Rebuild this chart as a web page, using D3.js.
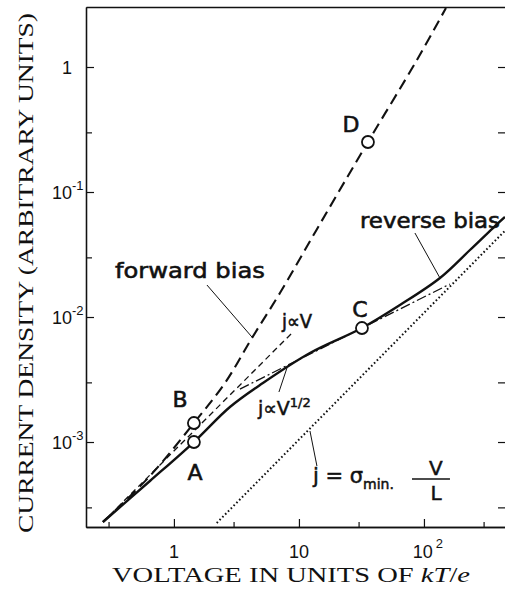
<!DOCTYPE html>
<html>
<head>
<meta charset="utf-8">
<script src="https://cdn.jsdelivr.net/npm/d3@7"></script>
<style>
  body { margin: 0; background: #fff; }
  svg { display: block; }
</style>
</head>
<body>
<div id="chart"></div>
<script>
// values: V in units of kT/e, j in arbitrary units
var forwardV = [0.2704, 0.6427, 1.445, 2.559, 4.207, 7.047, 14.72, 35.65, 87.9, 150];
var forwardJ = [2.291e-4, 5.346e-4, 1.419e-3, 2.965e-3, 6.79e-3, 0.01556, 0.05546, 0.2512, 1.138, 2.965];

var reverseV = [0.2704, 0.6427, 1.445, 2.805, 5.152, 12.25, 31.92, 64.27, 134.3, 233.3, 356.5, 444.6];
var reverseJ = [2.291e-4, 4.875e-4, 1.0e-3, 1.905e-3, 2.965e-3, 5.152e-3, 8.166e-3, 0.01247, 0.02051, 0.03436, 0.05152, 0.0631];

var linearV = [0.2704, 8.95];          // j ~ V
var linearJ = [2.291e-4, 7.58e-3];
var sqrtV = [3.37, 161];               // j ~ V^1/2
var sqrtJ = [2.65e-3, 0.01834];
var ohmV = [2.2, 445];                 // j = sigma_min V/L
var ohmJ = [2.25e-4, 0.049];

var pointNames = ["A", "B", "C", "D"];
var pointV = [1.445, 1.445, 31.92, 35.65];
var pointJ = [1.0e-3, 1.419e-3, 8.166e-3, 0.2512];

var xMajor = [1, 10, 100];
var xMajorBase = ["1", "10", "10"];
var xMajorExp = ["", "", "2"];
var xMinor = [0.3, 3, 30, 300];
var yMajor = [1, 0.1, 0.01, 0.001];
var yMajorBase = ["1", "10", "10", "10"];
var yMajorExp = ["", "-1", "-2", "-3"];
var yMinor = [0.3, 0.03, 0.003, 3e-4];

var W = 505, H = 590;
var margin = {left: 86, top: 7, right: 0, bottom: 63};
var width = W - margin.left - margin.right;
var height = H - margin.top - margin.bottom;
var ink = "#111";

var svg = d3.select("#chart").append("svg")
  .attr("width", W)
  .attr("height", H);

var x = d3.scaleLog().domain([0.198, 445]).range([0, width]);
var y = d3.scaleLog().domain([2.09e-4, 3.02]).range([height, 0]);

var g = svg.append("g")
  .attr("transform", "translate(" + margin.left + "," + margin.top + ")");

svg.append("defs").append("clipPath").attr("id", "plot")
  .append("rect").attr("width", width).attr("height", height);

// axes, ticks pointing inward
function styleAxis(sel) {
  sel.selectAll("path").attr("stroke", ink).attr("stroke-width", 1.3);
  sel.selectAll("line").attr("stroke", ink).attr("stroke-width", 1.2);
}
g.append("g").attr("transform", "translate(0," + height + ")")
  .call(d3.axisBottom(x).tickValues(xMajor).tickSizeInner(-8).tickSizeOuter(0).tickFormat(""))
  .call(styleAxis);
g.append("g").attr("transform", "translate(0," + height + ")")
  .call(d3.axisBottom(x).tickValues(xMinor).tickSizeInner(-5).tickSizeOuter(0).tickFormat(""))
  .call(styleAxis);
g.append("g")
  .call(d3.axisLeft(y).tickValues(yMajor).tickSizeInner(-8).tickSizeOuter(0).tickFormat(""))
  .call(styleAxis);
g.append("g")
  .call(d3.axisLeft(y).tickValues(yMinor).tickSizeInner(-6).tickSizeOuter(0).tickFormat(""))
  .call(styleAxis);
g.append("g")
  .call(d3.axisTop(x).tickValues([]).tickSizeOuter(0))
  .call(styleAxis);
var right = g.append("g").attr("transform", "translate(" + width + ",0)")
  .call(d3.axisRight(y).tickValues(yMajor.concat(yMinor)).tickSizeInner(-7).tickSizeOuter(0).tickFormat(""))
  .call(styleAxis);
right.select("path").attr("stroke", "none");

// tick labels
var tickFont = "'Liberation Sans', Arial, sans-serif";
xMajor.forEach(function(v, i) {
  var t = g.append("text")
    .attr("x", x(v) + (xMajorExp[i] ? 4 : 0))
    .attr("y", height + 31)
    .attr("text-anchor", "middle")
    .attr("font-family", tickFont)
    .attr("font-size", 18)
    .attr("fill", ink)
    .text(xMajorBase[i]);
  if (xMajorExp[i]) {
    t.append("tspan").attr("dx", 3).attr("dy", -10).attr("font-size", 13).text(xMajorExp[i]);
  }
});
yMajor.forEach(function(v, i) {
  var t = g.append("text")
    .attr("y", y(v) + 7)
    .attr("font-family", tickFont)
    .attr("font-size", 18)
    .attr("fill", ink);
  if (yMajorExp[i]) {
    t.attr("x", -34);
    t.append("tspan").text(yMajorBase[i]);
    t.append("tspan").attr("dy", -9).attr("font-size", 13).text(yMajorExp[i]);
  } else {
    t.attr("x", -14).attr("text-anchor", "end").text(yMajorBase[i]);
  }
});

// axis titles
var serif = "'Liberation Serif', 'Times New Roman', serif";
var xt = svg.append("text")
  .attr("x", 112)
  .attr("y", 582)
  .attr("font-family", serif)
  .attr("font-size", 22)
  .attr("fill", ink)
  .attr("textLength", 358)
  .attr("lengthAdjust", "spacingAndGlyphs");
xt.append("tspan").text("VOLTAGE IN UNITS OF ");
xt.append("tspan").attr("font-style", "italic").text("kT");
xt.append("tspan").text("/");
xt.append("tspan").attr("font-style", "italic").text("e");

svg.append("text")
  .attr("transform", "translate(33,273) rotate(-90)")
  .attr("text-anchor", "middle")
  .attr("font-family", serif)
  .attr("font-size", 22)
  .attr("fill", ink)
  .attr("textLength", 520)
  .attr("lengthAdjust", "spacingAndGlyphs")
  .text("CURRENT DENSITY (ARBITRARY UNITS)");

// curves
var line = d3.line()
  .x(function(d) { return x(d[0]); })
  .y(function(d) { return y(d[1]); });
var smooth = d3.line()
  .x(function(d) { return x(d[0]); })
  .y(function(d) { return y(d[1]); })
  .curve(d3.curveCatmullRom.alpha(0.5));

var plot = g.append("g").attr("clip-path", "url(#plot)");

plot.append("path")
  .datum(d3.zip(ohmV, ohmJ))
  .attr("d", line)
  .attr("fill", "none").attr("stroke", ink)
  .attr("stroke-width", 2).attr("stroke-dasharray", "1.6 2.4");

plot.append("path")
  .datum(d3.zip(linearV, linearJ))
  .attr("d", line)
  .attr("fill", "none").attr("stroke", ink)
  .attr("stroke-width", 1.3).attr("stroke-dasharray", "6 4");

plot.append("path")
  .datum(d3.zip(sqrtV, sqrtJ))
  .attr("d", line)
  .attr("fill", "none").attr("stroke", ink)
  .attr("stroke-width", 1.3).attr("stroke-dasharray", "10 3 2 3");

plot.append("path")
  .datum(d3.zip(forwardV, forwardJ))
  .attr("d", smooth)
  .attr("fill", "none").attr("stroke", ink)
  .attr("stroke-width", 2.1).attr("stroke-dasharray", "11 6");

plot.append("path")
  .datum(d3.zip(reverseV, reverseJ))
  .attr("d", smooth)
  .attr("fill", "none").attr("stroke", ink)
  .attr("stroke-width", 2.4);

// pointer lines for the labels
var pointers = [
  [[1.837, 0.01803], [4.207, 6.918e-3]],   // forward bias
  [[84.7, 0.04699], [134.3, 0.02051]],     // reverse bias
  [[6.918, 2.512e-3], [8.017, 3.908e-3]],  // j ~ V^1/2
  [[12.25, 1.225e-3], [13.93, 6.427e-4]]   // j = sigma V/L
];
g.selectAll(".pointer").data(pointers).enter().append("path")
  .attr("class", "pointer")
  .attr("d", line)
  .attr("fill", "none").attr("stroke", ink).attr("stroke-width", 1);

// marked points
g.selectAll(".pt").data(d3.zip(pointV, pointJ)).enter().append("circle")
  .attr("class", "pt")
  .attr("cx", function(d) { return x(d[0]); })
  .attr("cy", function(d) { return y(d[1]); })
  .attr("r", 6)
  .attr("fill", "#fff").attr("stroke", ink).attr("stroke-width", 1.8);

// the labels in the scan are heavy, a thin outline thickens them
var sans = "'DejaVu Sans', 'Noto Sans', sans-serif";
var letterPos = [[1.472, 4.966e-4], [1.117, 1.905e-3], [30.76, 0.01], [26.06, 0.302]];
pointNames.forEach(function(n, i) {
  g.append("text")
    .attr("x", x(letterPos[i][0]))
    .attr("y", y(letterPos[i][1]))
    .attr("text-anchor", "middle")
    .attr("font-family", sans)
    .attr("font-size", 22)
    .attr("fill", ink)
    .attr("stroke", ink).attr("stroke-width", 0.6)
    .text(n);
});

function label(v, j, str, size, len) {
  return g.append("text")
    .attr("x", x(v)).attr("y", y(j))
    .attr("font-family", sans)
    .attr("font-size", size)
    .attr("fill", ink)
    .attr("stroke", ink).attr("stroke-width", 0.6)
    .attr("textLength", len)
    .attr("lengthAdjust", "spacingAndGlyphs")
    .text(str);
}
label(0.3373, 0.02051, "forward bias", 22, 150);
label(30.76, 0.05152, "reverse bias", 21, 140);
label(7.31, 8.166e-3, "j\u221dV", 19, 30);

var sq = g.append("text")
  .attr("x", x(4.699)).attr("y", y(1.644e-3))
  .attr("font-family", sans).attr("font-size", 19).attr("fill", ink)
  .attr("stroke", ink).attr("stroke-width", 0.5);
sq.append("tspan").text("j\u221dV");
sq.append("tspan").attr("dy", -8).attr("font-size", 13).text("1/2");

var eq = g.append("text")
  .attr("x", x(12.94)).attr("y", y(4.70e-4))
  .attr("font-family", sans).attr("font-size", 21).attr("fill", ink)
  .attr("stroke", ink).attr("stroke-width", 0.5);
eq.append("tspan").text("j = \u03c3");
eq.append("tspan").attr("dy", 6).attr("font-size", 14).text("min.");

var fx = x(113.8), fy = y(5.058e-4);
g.append("line")
  .attr("x1", fx - 19).attr("x2", fx + 19)
  .attr("y1", fy).attr("y2", fy)
  .attr("stroke", ink).attr("stroke-width", 1.5);
g.append("text").attr("x", fx + 5).attr("y", fy - 4)
  .attr("text-anchor", "middle").attr("font-family", sans).attr("font-size", 20).attr("fill", ink)
  .attr("stroke", ink).attr("stroke-width", 0.5)
  .text("V");
g.append("text").attr("x", fx + 5).attr("y", fy + 21)
  .attr("text-anchor", "middle").attr("font-family", sans).attr("font-size", 20).attr("fill", ink)
  .attr("stroke", ink).attr("stroke-width", 0.5)
  .text("L");
</script>
</body>
</html>
